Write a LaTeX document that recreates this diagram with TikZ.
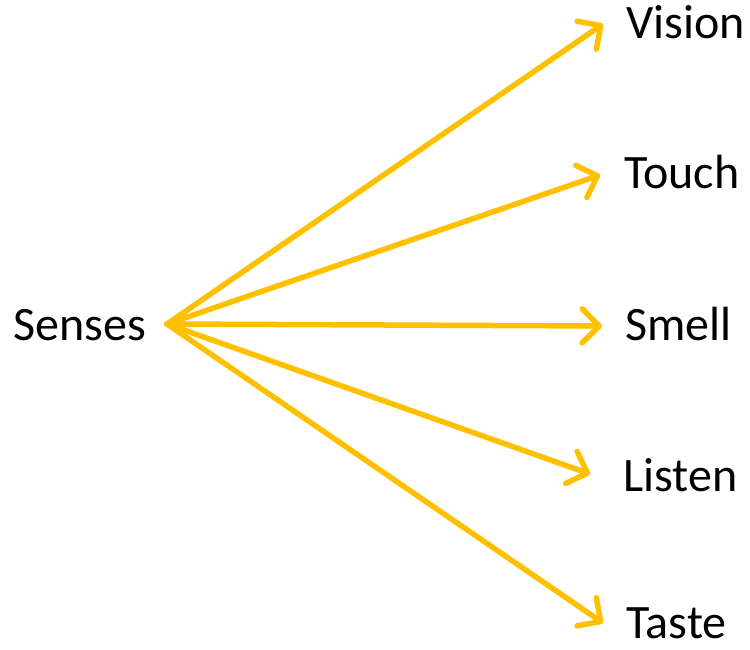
\documentclass[tikz,border=0pt]{standalone}
\usepackage{fontspec}
\setmainfont{Carlito}
\usetikzlibrary{arrows.meta}
\definecolor{arrowgold}{HTML}{FFC000}
\tikzset{
  label/.style={anchor=base west, inner sep=0pt, font=\fontsize{48}{56}\selectfont},
  sense/.style={draw=arrowgold, line width=5.5pt, line cap=round,
    -{Straight Barb[length=17pt, width=34pt, line cap=round, line join=round]}}
}
\begin{document}
\begin{tikzpicture}[x=1pt, y=-1pt]
  \useasboundingbox (0,0) rectangle (750,650);
  % labels
  \node[label] (senses) at (13,340) {Senses};
  \node[label] (vision) at (626,39) {Vision};
  \node[label] (touch)  at (624,189) {Touch};
  \node[label] (smell)  at (625,340) {Smell};
  \node[label] (listen) at (623,491) {Listen};
  \node[label] (taste)  at (626,638) {Taste};
  % hub and arrow tips
  \coordinate (hub) at (167,324);
  \coordinate (tv) at (603,24);
  \coordinate (tt) at (600,175);
  \coordinate (ts) at (602,326);
  \coordinate (tl) at (590,474);
  \coordinate (tx) at (603,623);
  % connectors
  \draw[sense] (hub) -- (tv);
  \draw[sense] (hub) -- (tt);
  \draw[sense] (hub) -- (ts);
  \draw[sense] (hub) -- (tl);
  \draw[sense] (hub) -- (tx);
\end{tikzpicture}
\end{document}
